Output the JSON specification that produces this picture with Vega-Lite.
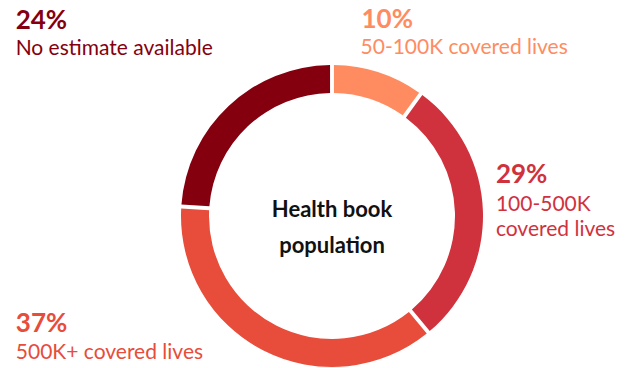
{
  "$schema": "https://vega.github.io/schema/vega-lite/v6.json",
  "width": 596,
  "height": 304,
  "autosize": {"type": "none"},
  "padding": {"left": 34, "top": 64, "right": 0, "bottom": 0},
  "background": "white",
  "config": {"view": {"stroke": null}, "font": "Lato", "text": {"font": "Lato"}},
  "datasets": {
    "shares": [
      {"category": "50-100K covered lives", "label": "50-100K covered lives", "pctLabel": "10%", "pct": 10, "order": 1},
      {"category": "100-500K covered lives", "label": "100-500K\ncovered lives", "pctLabel": "29%", "pct": 29, "order": 2},
      {"category": "500K+ covered lives", "label": "500K+ covered lives", "pctLabel": "37%", "pct": 37, "order": 3},
      {"category": "No estimate available", "label": "No estimate available", "pctLabel": "24%", "pct": 24, "order": 4}
    ],
    "center": [{"title": "Health book\npopulation"}]
  },
  "layer": [
    {
      "data": {"name": "shares"},
      "mark": {"type": "arc", "outerRadius": 151, "innerRadius": 123, "padAngle": 0.02},
      "encoding": {
        "theta": {"field": "pct", "type": "quantitative", "stack": true},
        "order": {"field": "order", "type": "quantitative"},
        "color": {"field": "category", "type": "nominal", "legend": null,
          "scale": {"domain": ["50-100K covered lives", "100-500K covered lives", "500K+ covered lives", "No estimate available"],
                    "range": ["#FF8C61", "#D0323D", "#E84C3A", "#84000F"]}}
      }
    },
    {
      "data": {"name": "shares"},
      "mark": {"type": "text", "radius": 170, "align": "left", "baseline": "alphabetic", "dx": -23, "dy": -26, "fontSize": 26, "fontWeight": "bold"},
      "encoding": {
        "theta": {"field": "pct", "type": "quantitative", "stack": true},
        "order": {"field": "order", "type": "quantitative"},
        "color": {"field": "category", "type": "nominal", "legend": null},
        "text": {"condition": {"test": "datum.order === 1", "field": "pctLabel"}, "value": ""}
      }
    },
    {
      "data": {"name": "shares"},
      "mark": {"type": "text", "radius": 170, "align": "left", "baseline": "alphabetic", "dx": -24, "dy": 0, "fontSize": 21},
      "encoding": {
        "theta": {"field": "pct", "type": "quantitative", "stack": true},
        "order": {"field": "order", "type": "quantitative"},
        "color": {"field": "category", "type": "nominal", "legend": null},
        "text": {"condition": {"test": "datum.order === 1", "field": "label"}, "value": ""}
      }
    },
    {
      "data": {"name": "shares"},
      "mark": {"type": "text", "radius": 170, "align": "left", "baseline": "alphabetic", "dx": -6, "dy": -28, "fontSize": 26, "fontWeight": "bold"},
      "encoding": {
        "theta": {"field": "pct", "type": "quantitative", "stack": true},
        "order": {"field": "order", "type": "quantitative"},
        "color": {"field": "category", "type": "nominal", "legend": null},
        "text": {"condition": {"test": "datum.order === 2", "field": "pctLabel"}, "value": ""}
      }
    },
    {
      "data": {"name": "shares"},
      "mark": {"type": "text", "radius": 170, "align": "left", "baseline": "alphabetic", "dx": -6, "dy": 0, "fontSize": 21, "lineBreak": "\n", "lineHeight": 25},
      "encoding": {
        "theta": {"field": "pct", "type": "quantitative", "stack": true},
        "order": {"field": "order", "type": "quantitative"},
        "color": {"field": "category", "type": "nominal", "legend": null},
        "text": {"condition": {"test": "datum.order === 2", "field": "label"}, "value": ""}
      }
    },
    {
      "data": {"name": "shares"},
      "mark": {"type": "text", "radius": 170, "align": "left", "baseline": "alphabetic", "dx": -239, "dy": -35, "fontSize": 26, "fontWeight": "bold"},
      "encoding": {
        "theta": {"field": "pct", "type": "quantitative", "stack": true},
        "order": {"field": "order", "type": "quantitative"},
        "color": {"field": "category", "type": "nominal", "legend": null},
        "text": {"condition": {"test": "datum.order === 3", "field": "pctLabel"}, "value": ""}
      }
    },
    {
      "data": {"name": "shares"},
      "mark": {"type": "text", "radius": 170, "align": "left", "baseline": "alphabetic", "dx": -239, "dy": -8, "fontSize": 21},
      "encoding": {
        "theta": {"field": "pct", "type": "quantitative", "stack": true},
        "order": {"field": "order", "type": "quantitative"},
        "color": {"field": "category", "type": "nominal", "legend": null},
        "text": {"condition": {"test": "datum.order === 3", "field": "label"}, "value": ""}
      }
    },
    {
      "data": {"name": "shares"},
      "mark": {"type": "text", "radius": 170, "align": "left", "baseline": "alphabetic", "dx": -200, "dy": -63, "fontSize": 26, "fontWeight": "bold"},
      "encoding": {
        "theta": {"field": "pct", "type": "quantitative", "stack": true},
        "order": {"field": "order", "type": "quantitative"},
        "color": {"field": "category", "type": "nominal", "legend": null},
        "text": {"condition": {"test": "datum.order === 4", "field": "pctLabel"}, "value": ""}
      }
    },
    {
      "data": {"name": "shares"},
      "mark": {"type": "text", "radius": 170, "align": "left", "baseline": "alphabetic", "dx": -200, "dy": -37, "fontSize": 21},
      "encoding": {
        "theta": {"field": "pct", "type": "quantitative", "stack": true},
        "order": {"field": "order", "type": "quantitative"},
        "color": {"field": "category", "type": "nominal", "legend": null},
        "text": {"condition": {"test": "datum.order === 4", "field": "label"}, "value": ""}
      }
    },
    {
      "data": {"name": "center"},
      "mark": {"type": "text", "align": "center", "baseline": "alphabetic", "dy": 1, "fontSize": 22, "fontWeight": "bold", "color": "#111111", "lineBreak": "\n", "lineHeight": 36},
      "encoding": {
        "text": {"field": "title", "type": "nominal"}
      }
    }
  ]
}
